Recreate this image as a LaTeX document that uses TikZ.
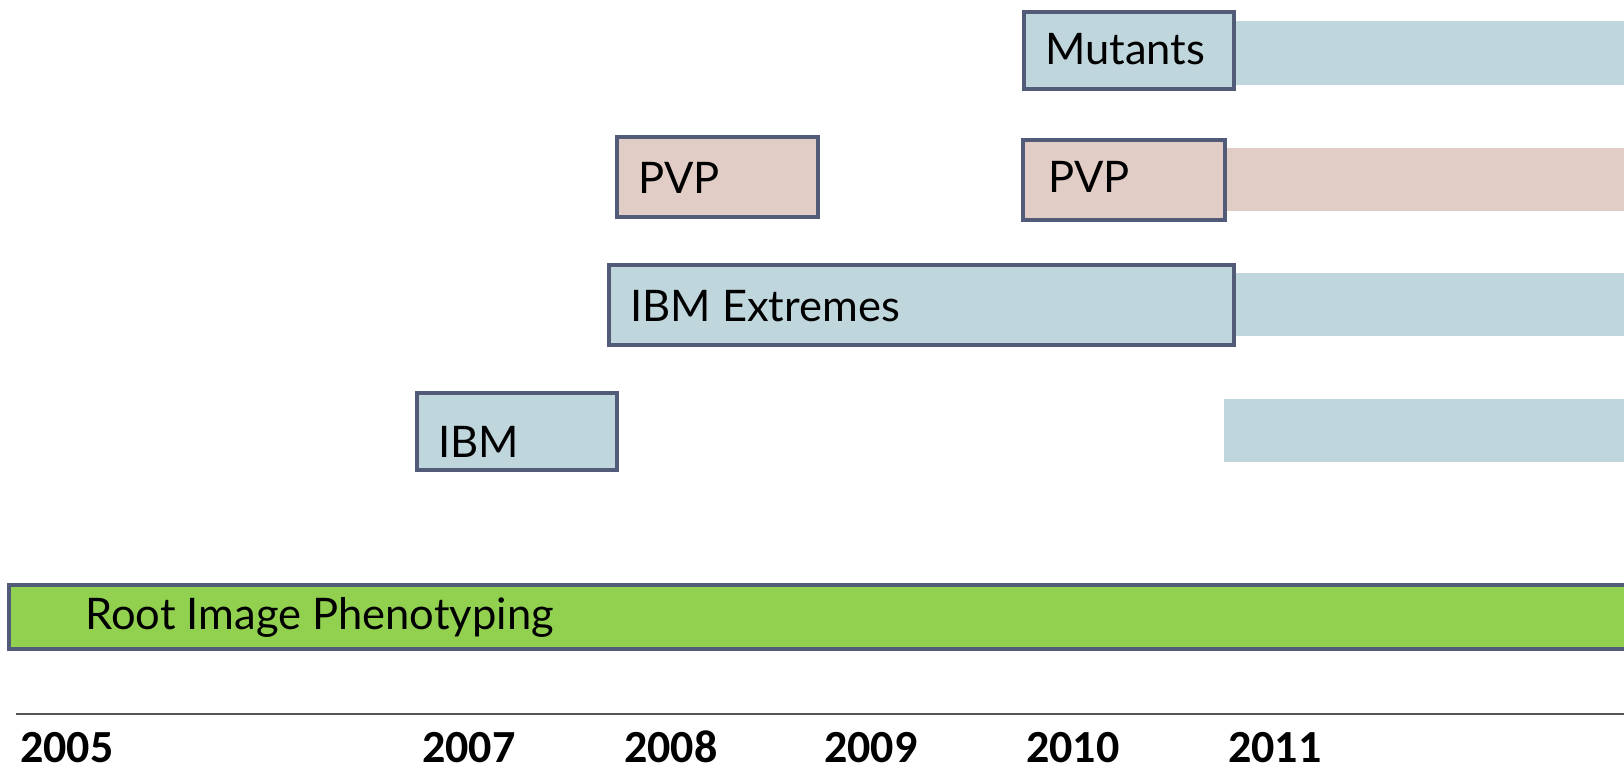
\documentclass[tikz,border=0pt]{standalone}
\usepackage{fontspec}
\setmainfont{Lato}
\newfontfamily\yearfont{Carlito}
\definecolor{barblue}{HTML}{C0D6DD}
\definecolor{barpink}{HTML}{E2CDC6}
\definecolor{bargreen}{HTML}{92D050}
\definecolor{edgeslate}{HTML}{525B78}
\definecolor{axisgray}{HTML}{555555}
\tikzset{
  framed/.style={draw=edgeslate, line width=3.5pt},
  label/.style={anchor=base west, inner sep=0pt, font=\fontsize{43.5}{50}\selectfont},
  year/.style={anchor=base west, inner sep=0pt, font=\yearfont\bfseries\fontsize{46}{52}\selectfont},
}
\begin{document}
\begin{tikzpicture}[x=1pt,y=-1pt]
\useasboundingbox (0,0) rectangle (1624,768);
\clip (0,0) rectangle (1624,768);

% continuation bars
\fill[barblue] (1234,21) rectangle (1630,85);
\fill[barpink] (1225,148) rectangle (1630,211);
\fill[barblue] (1234,273) rectangle (1630,336);
\fill[barblue] (1224,399) rectangle (1630,462);

% project boxes
\filldraw[framed, fill=barblue] (1024,12) rectangle (1234,89);
\node[label] (mutants) at (1045,65) {Mutants};

\filldraw[framed, fill=barpink] (1023,140) rectangle (1225,220);
\node[label] (pvp2) at (1048,192) {PVP};

\filldraw[framed, fill=barpink] (617,137) rectangle (818,217);
\node[label] (pvp1) at (638,193) {PVP};

\filldraw[framed, fill=barblue] (609,265) rectangle (1234,345);
\node[label] (ibmx) at (630,321) {IBM Extremes};

\filldraw[framed, fill=barblue] (417,393) rectangle (617,470);
\node[label] (ibm) at (438,457) {IBM};

\filldraw[framed, fill=bargreen] (9,585) rectangle (1640,649);
\node[label] (root) at (85,629) {Root Image Phenotyping};

% time axis
\coordinate (axisL) at (16,714);
\coordinate (axisR) at (1624,714);
\draw[axisgray, line width=2pt] (axisL) -- (axisR);

\node[year] (y2005) at (20,762) {2005};
\node[year] (y2007) at (422,762) {2007};
\node[year] (y2008) at (624,762) {2008};
\node[year] (y2009) at (824,762) {2009};
\node[year] (y2010) at (1026,762) {2010};
\node[year] (y2011) at (1228,762) {2011};
\end{tikzpicture}
\end{document}
